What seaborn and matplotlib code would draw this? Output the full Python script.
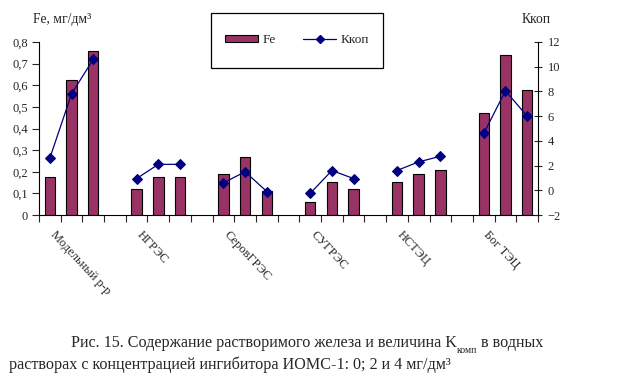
import pandas as pd
import seaborn as sns
import matplotlib.pyplot as plt
import matplotlib.transforms as mtransforms
from matplotlib.patches import Patch, Rectangle
from matplotlib.lines import Line2D
from matplotlib.ticker import FuncFormatter

# === Dane ===
groups = ["Модельный р-р", "НГРЭС", "СеровГРЭС", "СУГРЭС", "НСТЭЦ", "Бог ТЭЦ"]
doses = [0, 2, 4]
fe = [0.175, 0.624, 0.758,
      0.119, 0.175, 0.175,
      0.188, 0.269, 0.110,
      0.059, 0.151, 0.119,
      0.151, 0.188, 0.207,
      0.471, 0.740, 0.579]
kkop = [2.6, 7.8, 10.6,
        0.95, 2.1, 2.1,
        0.6, 1.5, -0.1,
        -0.25, 1.6, 0.95,
        1.6, 2.3, 2.75,
        4.6, 8.05, 6.0]

rows = []
for g, name in enumerate(groups):
    for d, dose in enumerate(doses):
        i = g * 3 + d
        rows.append({"group": name, "dose": dose, "slot": g * 4 + d,
                     "fe": fe[i], "kkop": kkop[i]})
df = pd.DataFrame(rows)
n_slots = len(groups) * 4 - 1

sns.set_style("white")
plt.rcParams["font.family"] = ["Liberation Serif", "DejaVu Serif"]

bar_color = "#993366"
line_color = "#000080"
W, H = 625, 377

fig = plt.figure(figsize=(6.25, 3.77), dpi=100)
ax = fig.add_axes([39 / W, 1 - 215 / H, (538 - 39) / W, 173 / H])

sns.barplot(data=df, x="slot", y="fe", order=list(range(n_slots)),
            color=bar_color, saturation=1.0, width=0.48,
            edgecolor="black", linewidth=0.8, ax=ax)
ax.set_ylim(0, 0.8)
ax.set_xlim(-0.5, n_slots - 0.5)
ax.set_yticks([i / 10 for i in range(9)])
ax.yaxis.set_major_formatter(FuncFormatter(lambda y, _: f"{y:g}".replace(".", ",")))
ax.set_xticks([i - 0.5 for i in range(n_slots + 1)])
ax.set_xticklabels([])
ax.set_xlabel("")
ax.set_ylabel("")
ax.tick_params(axis="y", direction="out", length=5, width=0.8, labelsize=9, pad=3, left=True)
ax.tick_params(axis="x", direction="out", length=5, width=0.8, bottom=True)
for s in ["top", "right"]:
    ax.spines[s].set_visible(False)
for s in ["left", "bottom"]:
    ax.spines[s].set_color("black")
    ax.spines[s].set_linewidth(0.8)

ax2 = ax.twinx()
sns.lineplot(data=df, x="slot", y="kkop", units="group", estimator=None,
             color=line_color, marker="D", markersize=5, markeredgecolor=line_color,
             linewidth=0.9, legend=False, ax=ax2)
ax2.set_ylim(-2, 12)
ax2.set_yticks(range(-2, 13, 2))
ax2.set_ylabel("")
ax2.tick_params(axis="y", direction="inout", length=6, width=0.8, labelsize=9, pad=4, right=True)
for s in ["top", "left", "bottom"]:
    ax2.spines[s].set_visible(False)
ax2.spines["right"].set_color("black")
ax2.spines["right"].set_linewidth(0.8)
ax.set_xlim(-0.5, n_slots - 0.5)

# podpisy kategorii (obrócone)
trans = mtransforms.blended_transform_factory(ax.transData, ax.transAxes)
for g, name in enumerate(groups):
    ax.text(g * 4 + 0.3, -0.08, name, transform=trans, rotation=-47,
            rotation_mode="anchor", ha="left", va="top", fontsize=9)

# tytuły osi
fig.text(33 / W, 1 - 23 / H, "Fe, мг/дм³", fontsize=9.8, va="baseline", ha="left")
fig.text(522 / W, 1 - 23 / H, "Ккоп", fontsize=9.8, va="baseline", ha="left")

# legenda
fig.patches.append(Rectangle((211 / W, 1 - 68 / H), 172 / W, 55 / H,
                             transform=fig.transFigure, facecolor="white",
                             edgecolor="black", linewidth=0.9, zorder=5))
handles = [Patch(facecolor=bar_color, edgecolor="black", linewidth=0.8),
           Line2D([], [], color=line_color, marker="D", markersize=4.5, linewidth=0.9)]
leg = fig.legend(handles, ["Fe", "Ккоп"], loc="center", ncol=2,
                 bbox_to_anchor=(297 / W, 1 - 40 / H),
                 frameon=False, fontsize=9.5, handlelength=2.5, handleheight=0.5,
                 columnspacing=2.1, handletextpad=0.3, borderpad=0)
leg.set_zorder(6)

# podpis rysunku
cap_fs = 11.6
y1 = 1 - 347 / H
t1 = fig.text(71 / W, y1, "Рис. 15. Содержание растворимого железа и величина K",
              fontsize=cap_fs, va="baseline", ha="left")
sub = fig.text(0, 0, "комп", fontsize=7, va="baseline", ha="left")
fig.canvas.draw()
bb = t1.get_window_extent()
sub.set_position((bb.x1 / fig.bbox.width, y1 - 6 / H))
fig.canvas.draw()
bs = sub.get_window_extent()
fig.text(bs.x1 / fig.bbox.width, y1, " в водных",
         fontsize=cap_fs, va="baseline", ha="left")
fig.text(9 / W, 1 - 369 / H,
         "растворах с концентрацией ингибитора ИОМС-1: 0; 2 и 4 мг/дм³",
         fontsize=cap_fs, va="baseline", ha="left")

fig.savefig("out.png", dpi=100)
